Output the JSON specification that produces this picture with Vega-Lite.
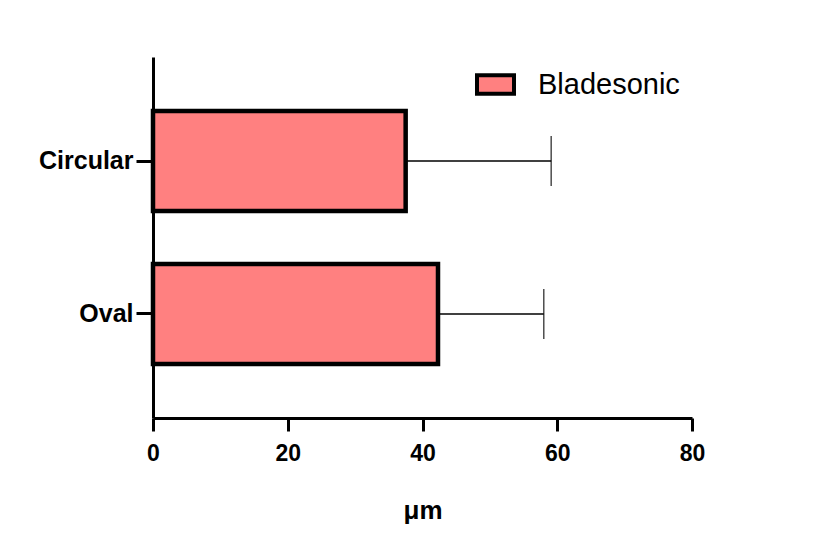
{
  "$schema": "https://vega.github.io/schema/vega-lite/v6.json",
  "autosize": {"type": "none"},
  "padding": {"left": 153, "top": 57, "right": 139, "bottom": 139},
  "width": 539,
  "height": 361,
  "background": "white",
  "config": {
    "view": {"stroke": null},
    "font": "Liberation Sans"
  },
  "data": {
    "values": [
      {"shape": "Circular", "mean": 37.5, "upper": 59.1, "group": "Bladesonic"},
      {"shape": "Oval", "mean": 42.3, "upper": 58.0, "group": "Bladesonic"}
    ]
  },
  "encoding": {
    "y": {
      "field": "shape",
      "type": "nominal",
      "sort": ["Circular", "Oval"],
      "scale": {"paddingInner": 0.346, "paddingOuter": 0.353},
      "axis": {
        "title": null,
        "domainColor": "black",
        "domainWidth": 3,
        "tickColor": "black",
        "tickWidth": 3,
        "tickSize": 17,
        "labelPadding": 3,
        "labelFont": "Liberation Sans",
        "labelFontSize": 25,
        "labelFontWeight": "bold",
        "labelColor": "black"
      }
    }
  },
  "layer": [
    {
      "mark": {"type": "rule", "color": "black", "strokeWidth": 1.5},
      "encoding": {
        "x": {"field": "mean", "type": "quantitative"},
        "x2": {"field": "upper"}
      }
    },
    {
      "mark": {"type": "tick", "color": "black", "thickness": 1.5, "size": 50, "orient": "vertical"},
      "encoding": {
        "x": {"field": "upper", "type": "quantitative"}
      }
    },
    {
      "mark": {"type": "bar", "stroke": "black", "strokeWidth": 4.5, "strokeJoin": "miter"},
      "encoding": {
        "x": {
          "field": "mean",
          "type": "quantitative",
          "scale": {"domain": [0, 80], "nice": false},
          "axis": {
            "title": "μm",
            "values": [0, 20, 40, 60, 80],
            "grid": false,
            "labelFlush": false,
            "domainColor": "black",
            "domainWidth": 3,
            "tickColor": "black",
            "tickWidth": 3,
            "tickSize": 13,
            "labelPadding": 11,
            "labelFont": "Liberation Sans",
            "labelFontSize": 23,
            "labelFontWeight": "bold",
            "labelColor": "black",
            "titleFont": "Liberation Sans",
            "titleFontSize": 26,
            "titleFontWeight": "bold",
            "titleColor": "black",
            "titlePadding": 32
          }
        },
        "x2": {"datum": 0},
        "color": {
          "field": "group",
          "type": "nominal",
          "scale": {"range": ["#FF8080"]},
          "legend": {
            "title": null,
            "orient": "none",
            "legendX": 322,
            "legendY": 7,
            "symbolType": "M-1,-0.5H1V0.5H-1Z",
            "symbolSize": 1369,
            "symbolStrokeColor": "black",
            "symbolStrokeWidth": 4,
            "symbolFillColor": "#FF8080",
            "labelFont": "Liberation Sans",
            "labelFontSize": 29,
            "labelColor": "black",
            "labelOffset": 22
          }
        }
      }
    }
  ]
}
